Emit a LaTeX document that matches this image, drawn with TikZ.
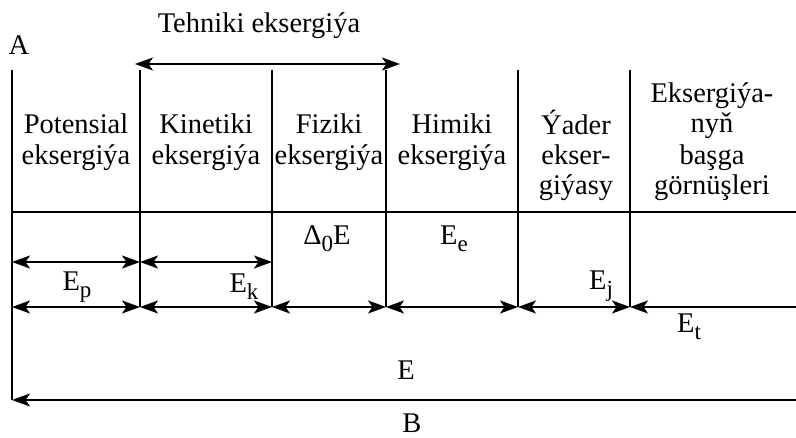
\documentclass[tikz,border=0pt]{standalone}
\usepackage{fontspec}
\setmainfont{Liberation Serif}
\usetikzlibrary{arrows.meta}
\newcommand{\lsub}[1]{\raisebox{-7pt}{\fontsize{23}{23}\selectfont #1}}
\begin{document}
\begin{tikzpicture}[x=1pt,y=-1pt,line width=2.1pt,
  txt/.style={font=\fontsize{28.5}{30}\selectfont,inner sep=0pt,anchor=base},
  tip/.tip={Stealth[length=18pt,width=13pt,inset=4.5pt]},
  dimarrow/.style={tip-tip},
  leftarrow/.style={tip-}]
\useasboundingbox (0,0) rectangle (796,438);
\foreach \x/\n in {12/a,140/b,272/c,386/d,518/e,630/f}{
  \coordinate (t\n) at (\x,70);
  \coordinate (m\n) at (\x,262);
  \coordinate (r\n) at (\x,307);
  \coordinate (h\n) at (\x,212);
}
\coordinate (bl) at (12,400);
\coordinate (br) at (796,400);
\coordinate (hr) at (796,212);
\coordinate (rr) at (796,307);
\coordinate (tl) at (135,64);
\coordinate (tr) at (400,64);
% vertical lines
\draw (ta) -- (bl);
\foreach \n in {b,c,d,e,f}{\draw (t\n) -- (r\n);}
% horizontal line
\draw (ha) -- (hr);
% top arrow
\draw[dimarrow] (tl) -- (tr);
% row 1
\draw[dimarrow] (ma) -- (mb);
\draw[dimarrow] (mb) -- (mc);
% row 2
\draw[dimarrow] (ra) -- (rb);
\draw[dimarrow] (rb) -- (rc);
\draw[dimarrow] (rc) -- (rd);
\draw[dimarrow] (rd) -- (re);
\draw[dimarrow] (re) -- (rf);
\draw[leftarrow] (rf) -- (rr);
% bottom
\draw[leftarrow] (bl) -- (br);
% texts
\node[txt] (A) at (19,55) {A};
\node[txt] (B) at (412,433) {B};
\node[txt] (tech) at (259,33) {Tehniki eksergiýa};
\node[txt] (p1) at (76,134) {Potensial};
\node[txt] (p2) at (76,165) {eksergiýa};
\node[txt] (k1) at (206,134) {Kinetiki};
\node[txt] (k2) at (206,165) {eksergiýa};
\node[txt] (f1) at (329,134) {Fiziki};
\node[txt] (f2) at (329,165) {eksergiýa};
\node[txt] (h1) at (452,134) {Himiki};
\node[txt] (h2) at (452,165) {eksergiýa};
\node[txt] (y1) at (576,135) {Ýader};
\node[txt] (y2) at (576,165) {ekser-};
\node[txt] (y3) at (576,195) {giýasy};
\node[txt] (o1) at (712,103) {Eksergiýa-};
\node[txt] (o2) at (712,133) {nyň};
\node[txt] (o3) at (712,165) {başga};
\node[txt] (o4) at (712,195) {görnüşleri};
\node[txt] (d0E) at (327,245) {Δ\lsub{0}E};
\node[txt] (Ee) at (454,245) {E\lsub{e}};
\node[txt] (Ep) at (77,291) {E\lsub{p}};
\node[txt] (Ek) at (244,293) {E\lsub{k}};
\node[txt] (Ej) at (601,290) {E\lsub{j}};
\node[txt] (Et) at (689,333) {E\lsub{t}};
\node[txt] (E) at (406,380) {E};
\end{tikzpicture}
\end{document}
